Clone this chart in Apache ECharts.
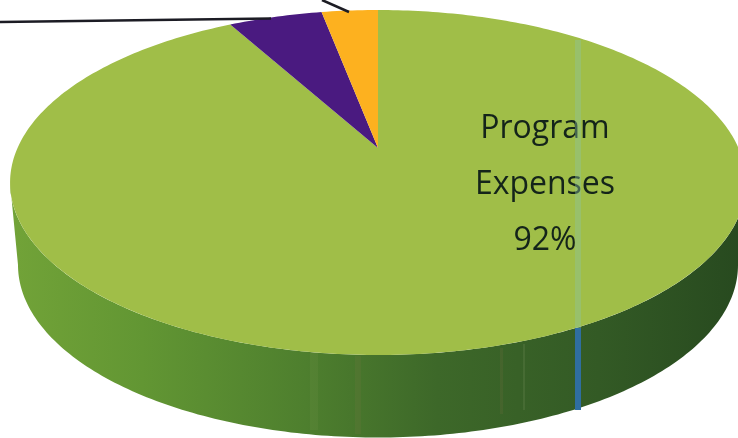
<!DOCTYPE html>
<html>
<head>
<meta charset="utf-8">
<style>html,body{margin:0;padding:0;background:#fff}#c{width:738px;height:438px}</style>
<script src="https://cdn.jsdelivr.net/npm/echarts@6/dist/echarts.min.js"></script>
</head>
<body>
<div id="c"></div>
<script>
const categories = ['Program Expenses', 'Other Expenses A', 'Other Expenses B'];
const values = [92, 5, 3];
const sliceColors = ['#a0be48', '#4a1a80', '#fdb11f'];
const labelLines = ['Program', 'Expenses', '92%'];

const total = values.reduce((a, b) => a + b, 0);
const CX = 378, CY = 148, RX = 360.5, RY = 165.6, K = 0.2;
const project = t => {
  const w = 1 + K * Math.cos(t);
  return [CX + RX * Math.sin(t) / w, CY - RY * Math.cos(t) / w];
};
const arcPts = (a, b, n) => {
  const p = [];
  for (let i = 0; i <= n; i++) p.push(project(a + (b - a) * i / n));
  return p;
};
const wallPts = () => {
  const top = [], bot = [];
  for (let i = 0; i <= 180; i++) {
    const t = Math.PI * i / 180;
    top.push([378 + 368 * Math.cos(t), 182.5 + 172.5 * Math.sin(t)]);
    bot.push([378 + 360 * Math.cos(t), 265 + 172.5 * Math.sin(t)]);
  }
  return top.concat(bot.reverse());
};
const chart = echarts.init(document.getElementById('c'), null, {renderer: 'canvas'});
chart.setOption({
  animation: false,
  backgroundColor: '#ffffff',
  graphic: [
    {type: 'line', z: 10, shape: {x1: 0, y1: 22, x2: 271, y2: 18.5}, style: {stroke: '#1c1c24', lineWidth: 2.5}},
    {type: 'line', z: 10, shape: {x1: 322, y1: 0, x2: 349, y2: 12}, style: {stroke: '#1c1c24', lineWidth: 2.5}},
    {type: 'rect', z: 10, shape: {x: 575, y: 40, width: 6, height: 288}, style: {fill: 'rgba(140,195,160,0.4)'}},
    {type: 'rect', z: 10, shape: {x: 575, y: 328, width: 6, height: 82}, style: {fill: '#2f6ea0'}},
    {type: 'rect', z: 10, shape: {x: 500, y: 348, width: 3, height: 66}, style: {fill: 'rgba(130,110,70,0.18)'}},
    {type: 'rect', z: 10, shape: {x: 523, y: 344, width: 2, height: 66}, style: {fill: 'rgba(140,160,110,0.18)'}},
    {type: 'rect', z: 10, shape: {x: 310, y: 352, width: 8, height: 78}, style: {fill: 'rgba(150,170,100,0.1)'}},
    {type: 'rect', z: 10, shape: {x: 355, y: 356, width: 6, height: 78}, style: {fill: 'rgba(150,120,80,0.12)'}}
  ],
  series: [{
    type: 'custom',
    coordinateSystem: 'none',
    silent: true,
    data: values.map((v, i) => ({name: categories[i], value: [i, v]})),
    renderItem(params, api) {
      const i = api.value(0);
      const before = values.slice(0, i).reduce((a, b) => a + b, 0);
      const a = before / total * Math.PI * 2;
      const b = (before + api.value(1)) / total * Math.PI * 2;
      const pts = [[CX, CY]].concat(arcPts(a, b, Math.max(4, Math.round((b - a) * 60))));
      const children = [];
      if (i === 0) {
        children.push({
          type: 'polygon',
          shape: {points: wallPts()},
          style: {fill: new echarts.graphic.LinearGradient(0, 0, 1, 0, [
            {offset: 0, color: '#72a338'},
            {offset: 0.18, color: '#629633'},
            {offset: 0.4, color: '#4e7f2e'},
            {offset: 0.58, color: '#3d6829'},
            {offset: 0.8, color: '#335a25'},
            {offset: 1, color: '#27491f'}
          ])}
        });
      }
      children.push({
        type: 'polygon',
        shape: {points: pts},
        style: {fill: sliceColors[i]}
      });
      if (i === 0) {
        labelLines.forEach((t, k) => children.push({
          type: 'text',
          z2: 100,
          style: {
            text: t, x: 545, y: 129 + k * 56, align: 'center', verticalAlign: 'middle',
            font: '400 32px "Open Sans"', fill: '#14241a'
          }
        }));
      }
      return {type: 'group', children};
    }
  }]
});
</script>
</body>
</html>
